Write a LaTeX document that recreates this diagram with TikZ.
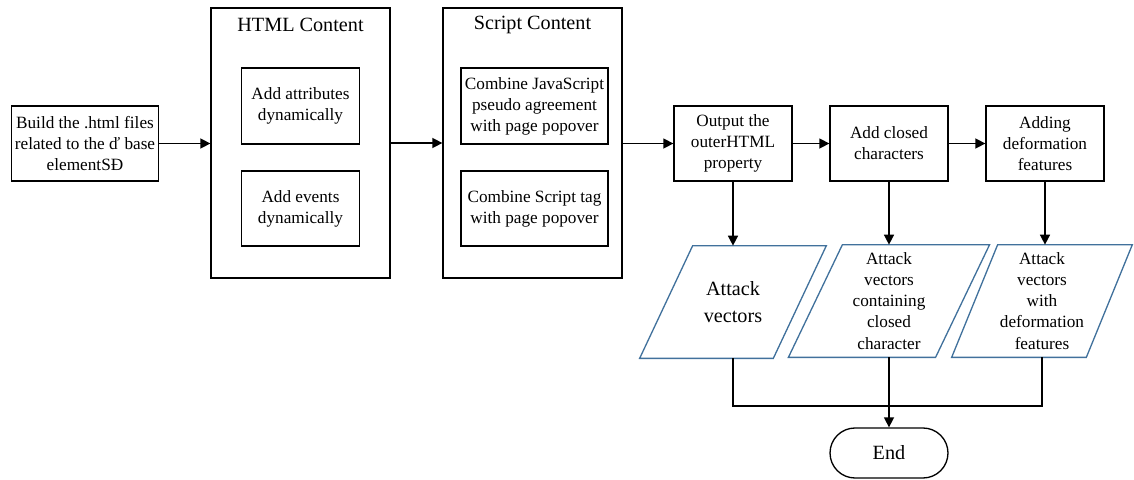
\documentclass[tikz,border=0pt]{standalone}
\usepackage{fontspec}
\setmainfont{Liberation Serif}
\usetikzlibrary{arrows.meta,shapes,positioning,calc}
\definecolor{vecBlue}{RGB}{65,113,156}

\begin{document}
\begin{tikzpicture}[x=0.02cm,y=-0.02cm,
    box/.style={draw,line width=0.75pt,align=center,inner sep=2pt,
      font=\fontsize{9.8}{12}\selectfont},
    frame/.style={draw,line width=0.75pt,minimum width=3.58cm,minimum height=5.4cm},
    title/.style={font=\fontsize{11.5}{14}\selectfont},
    vec/.style={align=center,inner sep=0pt,minimum height=2.24cm,
      font=\fontsize{9.8}{12}\selectfont},
    vecline/.style={draw=vecBlue,line width=0.75pt},
    arr/.style={-{Triangle[length=2mm,width=2mm]},line width=0.85pt}]
  \useasboundingbox (0,0) rectangle (1134,480);
  % Start
  \node[box,minimum width=2.92cm,minimum height=1.5cm] (build) at (85,143.5)
    {Build the .html files\\related to the ď base\\elementSĐ};
  % Containers
  \node[frame] (html) at (300.5,143) {};
  \node[title] (htmltitle) at (300.5,25) {HTML Content};
  \node[box,minimum width=2.36cm,minimum height=1.52cm] (attr) at (300.5,106)
    {Add attributes\\dynamically};
  \node[box,minimum width=2.36cm,minimum height=1.5cm] (events) at (300.5,208.5)
    {Add events\\dynamically};
  \node[frame] (script) at (532.5,143) {};
  \node[title] (scripttitle) at (532.5,25) {Script Content};
  \node[box,minimum width=2.94cm,minimum height=1.52cm] (jsproto) at (534.5,106)
    {Combine JavaScript\\pseudo agreement\\with page popover};
  \node[box,minimum width=2.94cm,minimum height=1.5cm] (scripttag) at (534.5,208.5)
    {Combine Script tag\\with page popover};
  % Steps
  \foreach \nm/\x/\txt in {outer/733/{Output the\\outerHTML\\property},
      closed/889/{Add closed\\characters},
      deform/1045/{Adding\\deformation\\features}}{
    \node[box,minimum width=2.36cm,minimum height=1.5cm] (\nm) at (\x,143.5) {\txt};
  }
  % Attack vectors
  \node[vec,minimum width=2.66cm,font=\fontsize{11.5}{15}\selectfont] (vec1) at (733,302)
    {Attack\\vectors};
  \node[vec,minimum width=2.93cm] (vec2) at (889,301)
    {Attack\\vectors\\containing\\closed\\character};
  \node[vec,minimum width=2.68cm] (vec3) at (1042,301)
    {Attack\\vectors\\with\\deformation\\features};
  \foreach \v/\s in {vec1/26.5,vec2/27,vec3/23}
    \draw[vecline] ($(\v.south west)+(-\s,0)$) -- ($(\v.south east)+(-\s,0)$)
      -- ($(\v.north east)+(\s,0)$) -- ($(\v.north west)+(\s,0)$) -- cycle;
  \node[draw,line width=0.75pt,rounded corners=0.5cm,minimum width=2.36cm,
    minimum height=1cm,font=\fontsize{11.5}{14}\selectfont] (end) at (889,453) {End};
  \coordinate (join) at (889,406);
  % Connectors
  \draw[arr] (build.east) -- (build.east -| html.west);
  \draw[arr] (html.east |- 0,143) -- (script.west |- 0,143);
  \draw[arr] (script.east |- outer.west) -- (outer.west);
  \draw[arr] (outer) -- (closed);
  \draw[arr] (closed) -- (deform);
  \foreach \a/\b in {outer/vec1,closed/vec2,deform/vec3}
    \draw[arr] (\a.south) -- (\a.south |- \b.north);
  \draw[line width=0.75pt] (vec1.south) |- (join) -| (vec3.south);
  \draw[arr] (vec2.south) -- (end);
\end{tikzpicture}
\end{document}
